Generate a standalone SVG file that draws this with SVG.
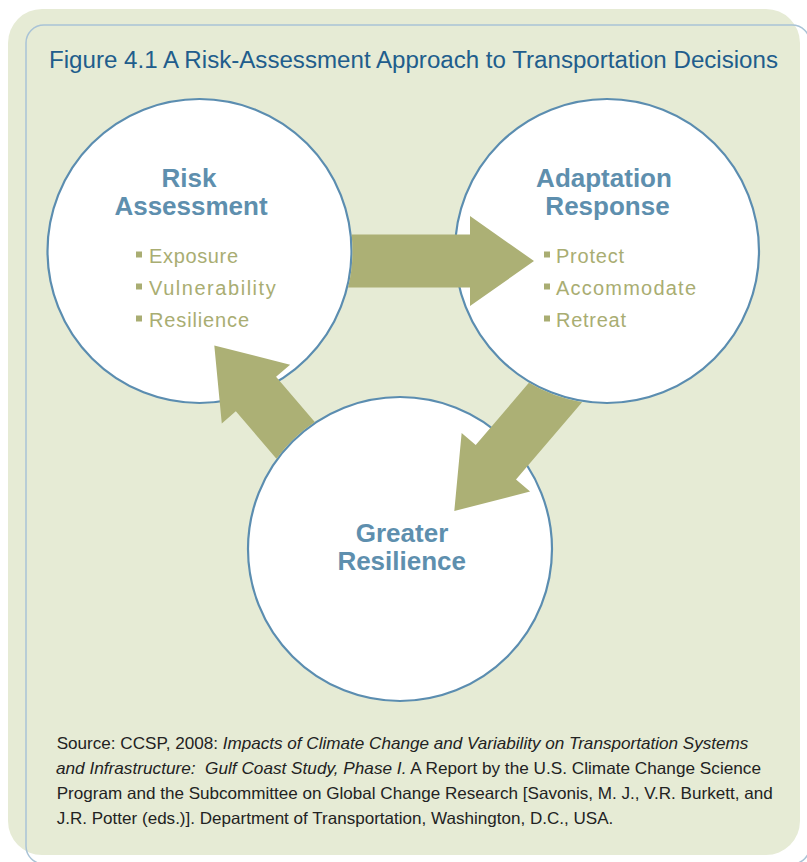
<svg xmlns="http://www.w3.org/2000/svg" width="807" height="862" viewBox="0 0 807 862">
<style>
.bg{fill:#e6ebd5}
.frame{fill:none;stroke:#a9c3d6;stroke-width:1.5}
.circ{fill:#ffffff;stroke:#5b8db0;stroke-width:2.2}
.arrow{fill:#acb075}
.title{font-family:"Liberation Sans",Arial,sans-serif;font-size:23px;fill:#215d8c}
.head{font-family:"Liberation Sans",Arial,sans-serif;font-size:26px;font-weight:bold;fill:#5e8fae;text-anchor:middle}
.item{font-family:"Liberation Sans",Arial,sans-serif;font-size:20px;fill:#a9ad72}
.bul{fill:#a9ad72}
.src{font-family:"Liberation Sans",Arial,sans-serif;font-size:16.5px;fill:#222222}
.it{font-style:italic}
</style>
<rect class="bg" x="8" y="9" width="792" height="846" rx="34" ry="34"/>
<rect class="frame" x="26" y="25" width="784" height="839" rx="18" ry="18"/>
<text class="title" x="49" y="68" textLength="729" lengthAdjust="spacingAndGlyphs">Figure 4.1 A Risk-Assessment Approach to Transportation Decisions</text>

<g id="node-risk">
<circle class="circ" cx="199.5" cy="251" r="152"/>
<text class="head" x="189" y="187">Risk</text>
<text class="head" x="191" y="215">Assessment</text>
<rect class="bul" x="136" y="251.5" width="6" height="6"/>
<rect class="bul" x="136" y="283.5" width="6" height="6"/>
<rect class="bul" x="136" y="315.5" width="6" height="6"/>
<text class="item" x="149" y="263.3" textLength="89" lengthAdjust="spacing">Exposure</text>
<text class="item" x="149" y="295.3" textLength="126.7" lengthAdjust="spacing">Vulnerability</text>
<text class="item" x="149" y="327.3" textLength="100" lengthAdjust="spacing">Resilience</text>
</g>

<g id="node-adapt">
<circle class="circ" cx="607" cy="251" r="152"/>
<text class="head" x="604" y="187.3">Adaptation</text>
<text class="head" x="607.5" y="215">Response</text>
<rect class="bul" x="544" y="251.5" width="6" height="6"/>
<rect class="bul" x="544" y="283.5" width="6" height="6"/>
<rect class="bul" x="544" y="315.5" width="6" height="6"/>
<text class="item" x="556" y="263.3" textLength="68" lengthAdjust="spacing">Protect</text>
<text class="item" x="556" y="295.3" textLength="140" lengthAdjust="spacing">Accommodate</text>
<text class="item" x="556" y="327.3" textLength="70" lengthAdjust="spacing">Retreat</text>
</g>

<g id="node-greater">
<circle class="circ" cx="400" cy="549" r="152"/>
<text class="head" x="402" y="542.3">Greater</text>
<text class="head" x="401.7" y="570">Resilience</text>
</g>

<g id="connectors">
<path id="arrow-risk-adapt" class="arrow" transform="translate(534,261)" d="M0,0 L-64,45 L-64,26.5 L-185.9,26.5 A153,153 0 0 0 -182.4,-26.5 L-64,-26.5 L-64,-45 Z"/>
<path id="arrow-adapt-greater" class="arrow" transform="translate(454.3,511) rotate(130.5)" d="M0,0 L-64,45 L-64,26.5 L-145.9,26.5 A153,153 0 0 0 -165.7,-26.5 L-64,-26.5 L-64,-45 Z"/>
<path id="arrow-greater-risk" class="arrow" transform="translate(214.3,345.5) rotate(229.4)" d="M0,0 L-64,45 L-64,26.5 L-123.5,26.5 A153,153 0 0 0 -126.4,-26.5 L-64,-26.5 L-64,-45 Z"/>
</g>

<text class="src" x="56.7" y="749.3" textLength="691.6" lengthAdjust="spacingAndGlyphs">Source: CCSP, 2008: <tspan class="it">Impacts of Climate Change and Variability on Transportation Systems</tspan></text>
<text class="src" x="56" y="774.3" textLength="705" lengthAdjust="spacingAndGlyphs"><tspan class="it">and Infrastructure: &#160;Gulf Coast Study, Phase I.</tspan> A Report by the U.S. Climate Change Science</text>
<text class="src" x="56.7" y="799.3" textLength="716" lengthAdjust="spacingAndGlyphs">Program and the Subcommittee on Global Change Research [Savonis, M. J., V.R. Burkett, and</text>
<text class="src" x="56.7" y="824.3" textLength="556.6" lengthAdjust="spacingAndGlyphs">J.R. Potter (eds.)]. Department of Transportation, Washington, D.C., USA.</text>
</svg>
